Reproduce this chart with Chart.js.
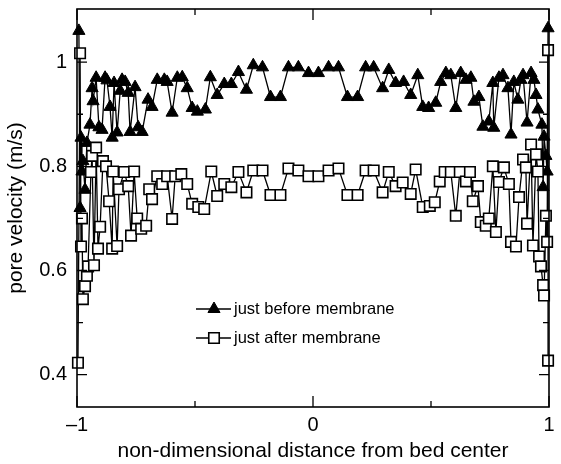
<!DOCTYPE html>
<html>
<head>
<meta charset="utf-8">
<script src="https://cdn.jsdelivr.net/npm/chart.js@4/dist/chart.umd.min.js"></script>
<style>
html,body{margin:0;padding:0;background:#fff;}
#wrap{width:561px;height:464px;position:relative;}
</style>
</head>
<body>
<div id="wrap"><canvas id="c" width="561" height="464"></canvas></div>
<script>
// ---- data ----
const seriesNames = ["just before membrane", "just after membrane"];

const beforeX = [-0.992,-0.987,-0.983,-0.979,-0.975,-0.966,-0.958,-0.945,-0.936,-0.932,-0.919,-0.907,-0.894,-0.881,-0.873,-0.860,-0.851,-0.843,-0.830,-0.817,-0.809,-0.796,-0.783,-0.775,-0.754,-0.741,-0.724,-0.699,-0.682,-0.660,-0.630,-0.618,-0.597,-0.575,-0.554,-0.533,-0.512,-0.490,-0.456,-0.435,-0.406,-0.376,-0.346,-0.316,-0.282,-0.253,-0.214,-0.180,-0.138,-0.104,-0.062,-0.019,0.023,0.066,0.108,0.146,0.189,0.223,0.257,0.295,0.321,0.350,0.384,0.414,0.444,0.465,0.490,0.520,0.541,0.563,0.584,0.605,0.626,0.648,0.669,0.682,0.703,0.720,0.745,0.762,0.766,0.788,0.805,0.826,0.839,0.851,0.868,0.881,0.890,0.907,0.924,0.936,0.945,0.953,0.970,0.975,0.979,0.987,0.992,0.996];
const beforeY = [1.060,0.720,0.855,0.790,0.810,0.755,0.845,0.880,0.950,0.925,0.970,0.875,0.870,0.970,0.965,0.914,0.855,0.960,0.865,0.945,0.966,0.962,0.941,0.866,0.952,0.875,0.866,0.928,0.914,0.966,0.966,0.962,0.903,0.970,0.971,0.950,0.912,0.905,0.909,0.971,0.937,0.958,0.958,0.981,0.947,0.994,0.990,0.933,0.933,0.990,0.990,0.979,0.979,0.990,0.990,0.933,0.933,0.990,0.990,0.950,0.985,0.960,0.962,0.937,0.975,0.914,0.912,0.922,0.962,0.979,0.975,0.912,0.979,0.966,0.970,0.924,0.933,0.876,0.886,0.960,0.874,0.970,0.975,0.950,0.861,0.962,0.928,0.966,0.975,0.884,0.979,0.966,0.937,0.909,0.880,0.760,0.857,0.820,0.790,1.065];

const afterX = [-0.996,-0.987,-0.983,-0.979,-0.975,-0.966,-0.958,-0.953,-0.941,-0.936,-0.928,-0.919,-0.911,-0.902,-0.890,-0.877,-0.864,-0.851,-0.847,-0.830,-0.822,-0.800,-0.783,-0.771,-0.758,-0.745,-0.728,-0.707,-0.694,-0.682,-0.660,-0.639,-0.618,-0.597,-0.584,-0.558,-0.533,-0.512,-0.486,-0.461,-0.431,-0.406,-0.376,-0.346,-0.316,-0.282,-0.253,-0.214,-0.180,-0.138,-0.104,-0.062,-0.019,0.023,0.066,0.108,0.146,0.189,0.223,0.257,0.295,0.321,0.350,0.380,0.414,0.435,0.465,0.495,0.516,0.537,0.558,0.584,0.605,0.622,0.648,0.665,0.677,0.699,0.711,0.732,0.745,0.762,0.775,0.788,0.809,0.830,0.839,0.860,0.873,0.890,0.902,0.907,0.924,0.932,0.945,0.953,0.958,0.966,0.975,0.979,0.987,0.992,0.996,0.996];
const afterY = [0.423,1.017,0.646,0.700,0.545,0.570,0.590,0.608,0.789,0.820,0.610,0.836,0.642,0.684,0.810,0.800,0.733,0.642,0.790,0.647,0.756,0.789,0.762,0.667,0.790,0.700,0.680,0.686,0.756,0.737,0.781,0.766,0.781,0.699,0.781,0.785,0.766,0.728,0.722,0.718,0.790,0.743,0.766,0.760,0.789,0.750,0.792,0.792,0.745,0.745,0.796,0.792,0.781,0.781,0.792,0.796,0.745,0.745,0.792,0.792,0.750,0.789,0.762,0.769,0.747,0.794,0.722,0.724,0.731,0.771,0.789,0.789,0.705,0.789,0.771,0.789,0.733,0.762,0.693,0.686,0.700,0.800,0.674,0.770,0.798,0.766,0.655,0.646,0.741,0.813,0.798,0.690,0.842,0.648,0.823,0.790,0.627,0.608,0.572,0.552,0.705,0.655,1.023,0.427];

const xTickValues = [-1, 0, 1];
const xTickLabels = ["\u20131", "0", "1"];
const xMinorTicks = [-0.5, 0.5];
const yTickValues = [0.4, 0.6, 0.8, 1];
const yTickLabels = ["0.4", "0.6", "0.8", "1"];
const yMinorTicks = [0.5, 0.7, 0.9];

// ---- chart ----
const FONT = "'Liberation Sans', Arial, Helvetica, sans-serif";
const toPts = (xs, ys) => xs.map((v, i) => ({x: v, y: ys[i]}));

const styleBefore = {pointStyle: 'triangle', pointRadius: 7, pointBackgroundColor: '#000', pointBorderColor: '#000', pointBorderWidth: 1};
const styleAfter  = {pointStyle: 'rect', pointRadius: 7.4, pointBackgroundColor: '#fff', pointBorderColor: '#000', pointBorderWidth: 1.6};

const framePlugin = {
  id: 'frame',
  afterDatasetsDraw(chart) {
    const {ctx, chartArea: {left, right, top, bottom}, scales: {x, y}} = chart;
    ctx.save();
    ctx.strokeStyle = '#000';
    ctx.lineWidth = 1.6;
    ctx.strokeRect(left, top, right - left, bottom - top);
    ctx.lineWidth = 1.3;
    ctx.beginPath();
    const tickX = (vals, len) => vals.forEach(v => {
      const p = x.getPixelForValue(v);
      ctx.moveTo(p, bottom); ctx.lineTo(p, bottom - len);
      ctx.moveTo(p, top); ctx.lineTo(p, top + len);
    });
    const tickY = (vals, len) => vals.forEach(v => {
      const p = y.getPixelForValue(v);
      ctx.moveTo(left, p); ctx.lineTo(left + len, p);
      ctx.moveTo(right, p); ctx.lineTo(right - len, p);
    });
    tickX(xTickValues, 11); tickX(xMinorTicks, 6);
    tickY(yTickValues, 10); tickY(yMinorTicks, 6);
    ctx.stroke();
    ctx.restore();
  }
};

const legendPlugin = {
  id: 'customLegend',
  afterDraw(chart) {
    const {ctx, chartArea: {left, top}} = chart;
    const lx0 = left + 119, lx1 = left + 154, mx = left + 137, tx = left + 157;
    const rows = [{y: top + 300, style: styleBefore, label: seriesNames[0]},
                  {y: top + 329, style: styleAfter, label: seriesNames[1]}];
    ctx.save();
    rows.forEach(r => {
      ctx.strokeStyle = '#000'; ctx.lineWidth = 1.3;
      ctx.beginPath(); ctx.moveTo(lx0, r.y); ctx.lineTo(lx1, r.y); ctx.stroke();
      ctx.fillStyle = r.style.pointBackgroundColor;
      ctx.strokeStyle = r.style.pointBorderColor;
      ctx.lineWidth = r.style.pointBorderWidth;
      Chart.helpers.drawPoint(ctx, {pointStyle: r.style.pointStyle, radius: r.style.pointRadius, rotation: 0, borderWidth: r.style.pointBorderWidth}, mx, r.y);
      ctx.fillStyle = '#000';
      ctx.font = '16.5px ' + FONT;
      ctx.textBaseline = 'middle';
      ctx.textAlign = 'left';
      ctx.fillText(r.label, tx, r.y);
    });
    ctx.restore();
  }
};

new Chart(document.getElementById('c'), {
  type: 'scatter',
  data: {
    datasets: [
      Object.assign({label: seriesNames[1], data: toPts(afterX, afterY), showLine: true, borderColor: '#000', borderWidth: 1.3, clip: false, order: 0}, styleAfter),
      Object.assign({label: seriesNames[0], data: toPts(beforeX, beforeY), showLine: true, borderColor: '#000', borderWidth: 1.3, clip: false, order: 1}, styleBefore)
    ]
  },
  options: {
    responsive: false,
    animation: false,
    devicePixelRatio: 1,
    layout: {padding: {top: 9, right: 12, left: 0, bottom: 0}},
    plugins: {legend: {display: false}, tooltip: {enabled: false}},
    scales: {
      x: {
        type: 'linear', min: -1, max: 1,
        grid: {display: false, drawTicks: false},
        border: {display: false},
        afterBuildTicks: s => { s.ticks = xTickValues.map(v => ({value: v})); },
        afterFit: s => { s.height = 57; s.paddingLeft = 0; s.paddingRight = 0; },
        ticks: {color: '#000', font: {family: FONT, size: 20}, padding: 6,
                callback: (v) => xTickLabels[xTickValues.indexOf(v)] ?? ''},
        title: {display: true, text: 'non-dimensional distance from bed center', color: '#000',
                font: {family: FONT, size: 21}, padding: {top: 0, bottom: 0}}
      },
      y: {
        type: 'linear', min: 0.338, max: 1.102,
        grid: {display: false, drawTicks: false},
        border: {display: false},
        afterBuildTicks: s => { s.ticks = yTickValues.map(v => ({value: v})); },
        afterFit: s => { s.width = 77; s.paddingTop = 0; s.paddingBottom = 0; },
        ticks: {color: '#000', font: {family: FONT, size: 20}, padding: 10,
                callback: (v) => yTickLabels[yTickValues.indexOf(v)] ?? ''},
        title: {display: true, text: 'pore velocity (m/s)', color: '#000',
                font: {family: FONT, size: 21}, padding: {top: 4, bottom: 0}}
      }
    }
  },
  plugins: [framePlugin, legendPlugin]
});
</script>
</body>
</html>
